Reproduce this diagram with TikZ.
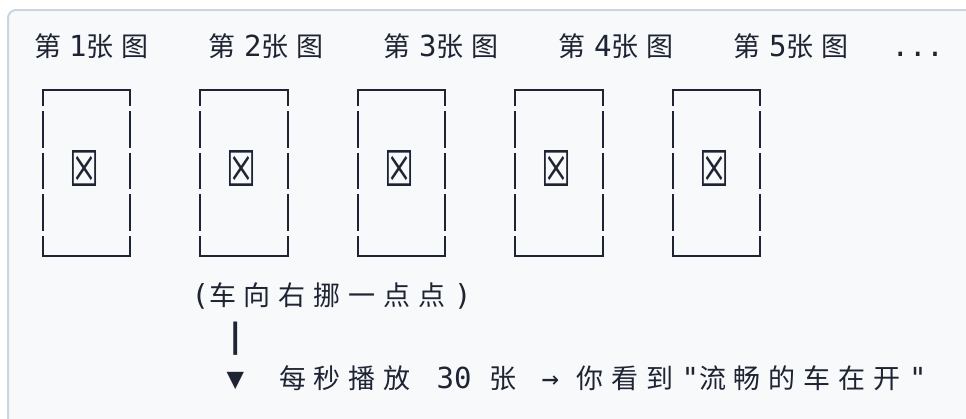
\documentclass[tikz,border=0pt]{standalone}
\usepackage{fontspec}
\usepackage{graphicx}
\newfontfamily\cjkf{Noto Sans CJK SC}
\newfontfamily\monof{DejaVu Sans Mono}
\newfontfamily\symf{DejaVu Sans}
\definecolor{ink}{HTML}{1E2433}
\definecolor{panel}{HTML}{F8F9FA}
\definecolor{framec}{HTML}{CBD5E1}
\newlength\gcw \setlength\gcw{17.5pt}
\makeatletter
\newcommand\gridtext[1]{\g@scan#1\relax}
\def\g@scan#1{\ifx#1\relax\else\g@cell{#1}\expandafter\g@scan\fi}
\def\g@cell#1{%
  \ifx*#1\hbox to\gcw{\hss}%
  \else
    \ifnum`#1>"2E7F \hbox to 2\gcw{\cjkf\fontsize{27pt}{27pt}\selectfont #1\hss}%
    \else\hbox to\gcw{\hss\monof\fontsize{29pt}{29pt}\selectfont #1\hss}%
    \fi
  \fi}
\makeatother
\tikzset{
  gridrow/.style={anchor=base west, inner sep=0pt, outer sep=0pt, text=ink},
  boxline/.style={draw=ink, line width=2.3pt},
  ballot/.style={inner sep=0pt, text=ink}
}
\begin{document}
\begin{tikzpicture}[x=1pt,y=-1pt]
\useasboundingbox (0,0) rectangle (966,418);
\clip (0,0) rectangle (966,418);
\fill[white] (0,0) rectangle (966,418);
\draw[framec, line width=2pt, fill=panel, rounded corners=8pt] (8,10) rectangle (1000,440);
% header row
\node[gridrow] (hdr) at (34,56) {\gridtext{第1张图***第2张图***第3张图***第4张图***第5张图**...}};
% frames
\foreach \L [count=\i] in {42.75,200.25,357.75,515.25,672.75} {
  \pgfmathsetmacro\R{\L+87.5}
  \draw[boxline] (\L,106) -- (\L,90) -- (\R,90) -- (\R,106);
  \draw[boxline] (\L,236) -- (\L,256) -- (\R,256) -- (\R,236);
  \foreach \a/\b in {111/147.5,152.5/189,194/230.5} {
    \draw[boxline] (\L,\a) -- (\L,\b);
    \draw[boxline] (\R,\a) -- (\R,\b);
  }
  \node[ballot] (img\i) at ({\L+41.5},168) {\resizebox{30pt}{36pt}{\symf ☒}};
}
% caption rows
\node[gridrow] (shift) at ({34+9*17.5},305) {\gridtext{(车向右挪一点点)}};
\node[gridrow] (bar) at ({34+11*17.5},347) {\hbox to\gcw{\hss\monof\bfseries\fontsize{29pt}{29pt}\selectfont\scalebox{1.2}[1.15]{|}\hss}};
\node[gridrow] (play) at ({34+11*17.5},388) {\gridtext{▼**每秒播放*30*张*→*你看到"流畅的车在开"}};
\end{tikzpicture}
\end{document}
